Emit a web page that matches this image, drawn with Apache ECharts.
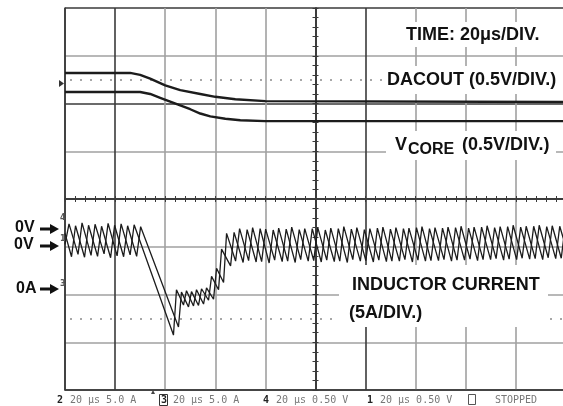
<!DOCTYPE html>
<html>
<head>
<meta charset="utf-8">
<script src="https://cdn.jsdelivr.net/npm/echarts@6/dist/echarts.min.js"></script>
<style>
  html, body { margin: 0; padding: 0; background: #fff; }
  #chart { width: 563px; height: 406px; }
</style>
</head>
<body>
<div id="chart"></div>
<script>
// x in microseconds (20 us/div, trigger at centre), y in screen divisions (0 = centre line)
const xTicks = [-100, -80, -60, -40, -20, 0, 20, 40, 60, 80, 100]
const yTicks = [-4, -3, -2, -1, 0, 1, 2, 3, 4]

// DACOUT (0.5V/div)
const dacTime = [-100, -74, -70, -66, -60, -54, -46, -40, -32, -20, 100]
const dacVal = [2.64, 2.64, 2.60, 2.52, 2.38, 2.28, 2.20, 2.14, 2.09, 2.05, 2.03]

// VCORE (0.5V/div)
const vcoreTime = [-100, -70, -66, -62, -58, -54, -50, -46, -42, -36, -30, -20, 100]
const vcoreVal = [2.24, 2.24, 2.20, 2.12, 2.04, 1.96, 1.88, 1.79, 1.73, 1.68, 1.65, 1.63, 1.63]

// inductor current, phase A (5A/div) - ripple vertices
const curATime = [
  -100, -98.4, -94.8, -93.2, -89.6, -88.0, -84.4, -82.8, -79.2, -77.6, -74.0, -72.4,
  -56.7, -55.5, -52.7, -51.5, -48.7, -47.5, -44.7, -43.5, -40.7, -39.5, -36.7, -35.5, -31.9, -30.3,
  -26.7, -25.1, -21.5, -19.9, -16.3, -14.7, -11.1, -9.5, -5.9, -4.3, -0.7, 0.9,
  4.5, 6.1, 9.7, 11.3, 14.9, 16.5, 20.1, 21.7, 25.3, 26.9, 30.5, 32.1,
  35.7, 37.3, 40.9, 42.5, 46.1, 47.7, 51.3, 52.9, 56.5, 58.1, 61.7, 63.3,
  66.9, 68.5, 72.1, 73.7, 77.3, 78.9, 82.5, 84.1, 87.7, 89.3, 92.9, 94.5, 98.1, 99.7, 100
]
const curAVal = [
  -0.95, -0.52, -1.16, -0.50, -1.18, -0.53, -1.15, -0.51, -1.19, -0.52, -1.17, -0.54,
  -2.85, -1.90, -2.22, -1.92, -2.24, -1.90, -2.20, -1.86, -2.10, -1.45, -1.75, -0.72, -1.30, -0.62,
  -1.29, -0.60, -1.31, -0.63, -1.28, -0.61, -1.30, -0.59, -1.27, -0.62, -1.29, -0.60,
  -1.28, -0.61, -1.30, -0.58, -1.27, -0.60, -1.29, -0.62, -1.28, -0.59, -1.30, -0.60,
  -1.27, -0.61, -1.28, -0.58, -1.29, -0.60, -1.27, -0.59, -1.28, -0.57, -1.26, -0.59,
  -1.27, -0.56, -1.25, -0.58, -1.26, -0.55, -1.24, -0.57, -1.25, -0.55, -1.23, -0.56, -1.24, -0.55, -0.62
]

// inductor current, phase B (5A/div)
const curBTime = [
  -100, -97.4, -95.8, -92.2, -90.6, -87.0, -85.4, -81.8, -80.2, -76.6, -75.0, -71.4, -69.8,
  -54.7, -53.5, -50.7, -49.5, -46.7, -45.5, -42.7, -41.5, -38.7, -37.5, -33.9, -32.5,
  -28.9, -27.3, -23.7, -22.1, -18.5, -16.9, -13.3, -11.7, -8.1, -6.5, -2.9, -1.3,
  2.3, 3.9, 7.5, 9.1, 12.7, 14.3, 17.9, 19.5, 23.1, 24.7, 28.3, 29.9,
  33.5, 35.1, 38.7, 40.3, 43.9, 45.5, 49.1, 50.7, 54.3, 55.9, 59.5, 61.1,
  64.7, 66.3, 69.9, 71.5, 75.1, 76.7, 80.3, 81.9, 85.5, 87.1, 90.7, 92.3, 95.9, 97.5, 100
]
const curBVal = [
  -0.72, -1.21, -0.56, -1.22, -0.55, -1.20, -0.57, -1.23, -0.55, -1.21, -0.56, -1.20, -0.58,
  -2.68, -1.95, -2.26, -1.94, -2.23, -1.88, -2.12, -1.62, -1.90, -1.05, -1.40, -0.70,
  -1.33, -0.64, -1.32, -0.62, -1.34, -0.65, -1.31, -0.63, -1.33, -0.64, -1.30, -0.62,
  -1.32, -0.65, -1.31, -0.62, -1.33, -0.63, -1.30, -0.64, -1.32, -0.61, -1.31, -0.63,
  -1.30, -0.62, -1.32, -0.60, -1.30, -0.62, -1.29, -0.61, -1.30, -0.60, -1.28, -0.61,
  -1.29, -0.59, -1.27, -0.60, -1.28, -0.58, -1.27, -0.59, -1.26, -0.57, -1.27, -0.58, -1.25, -0.57, -1.02
]

// cursor levels (dotted)
const cursorLevels = [2.5, -2.5]

const zip = (ts, vs) => ts.map((t, i) => [t, vs[i]])

const DARK = '#3a3a3a'
const GRAY = '#a0a0a0'
const labelFont = 'bold 18px "Liberation Sans", Arial, sans-serif'
const statusFont = '10px "DejaVu Sans Mono", monospace'

const chart = echarts.init(document.getElementById('chart'))

const trace = (name, ts, vs, width) => ({
  name,
  type: 'line',
  data: zip(ts, vs),
  showSymbol: false,
  symbol: 'none',
  silent: true,
  z: 5,
  lineStyle: { color: '#1c1c1c', width }
})

const centreAxis = (extra) => Object.assign({
  type: 'value',
  axisLabel: { show: false },
  splitLine: { show: false },
  axisLine: { show: true, onZero: true, onZeroAxisIndex: 0, lineStyle: { color: DARK, width: 1.5 } },
  axisTick: { show: true, inside: false, length: 3, lineStyle: { color: DARK, width: 1 } },
  minorTick: { show: true, splitNumber: 5, length: 3, lineStyle: { color: DARK, width: 1 } }
}, extra)

const text = (str, x, y, font, fill, align) => ({
  type: 'text', z: 101,
  style: { text: str, x, y, font: font || labelFont, fill: fill || '#111', align: align || 'left', verticalAlign: 'middle' }
})
const box = (x, y, w, h) => ({ type: 'rect', z: 100, shape: { x, y, width: w, height: h }, style: { fill: '#fff' } })
const arrow = (y) => ([
  { type: 'line', z: 101, shape: { x1: 40, y1: y, x2: 52, y2: y }, style: { stroke: '#111', lineWidth: 3 } },
  { type: 'polygon', z: 101, shape: { points: [[50, y - 5], [59, y], [50, y + 5]] }, style: { fill: '#111' } }
])

const option = {
  backgroundColor: '#fff',
  animation: false,
  grid: { left: 65, top: 8, width: 501, height: 382, outerBoundsMode: 'none', containLabel: false },
  xAxis: [
    {
      type: 'value', min: xTicks[0], max: xTicks[xTicks.length - 1], interval: 20,
      axisLine: { show: true, onZero: false, lineStyle: { color: DARK, width: 1.5 } },
      axisTick: { show: false }, axisLabel: { show: false },
      splitLine: { show: true, lineStyle: { width: 1.6, color: [DARK, DARK, GRAY, GRAY, GRAY, DARK, DARK, GRAY, GRAY, GRAY, GRAY] } }
    },
    centreAxis({ min: -100, max: 100, interval: 20, position: 'bottom' }),
    centreAxis({ min: -100, max: 100, interval: 20, position: 'top' })
  ],
  yAxis: [
    {
      type: 'value', min: yTicks[0], max: yTicks[yTicks.length - 1], interval: 1,
      axisLine: { show: true, onZero: false, lineStyle: { color: DARK, width: 1.5 } },
      axisTick: { show: false }, axisLabel: { show: false },
      splitLine: { show: true, lineStyle: { width: 1.6, color: [DARK, GRAY, GRAY, GRAY, DARK, GRAY, DARK, GRAY, DARK] } }
    },
    centreAxis({ min: -4, max: 4, interval: 1, position: 'left' }),
    centreAxis({ min: -4, max: 4, interval: 1, position: 'right' })
  ],
  series: [
    Object.assign(trace('DACOUT', dacTime, dacVal, 2.4), {
      markLine: {
        silent: true, symbol: 'none', label: { show: false },
        lineStyle: { color: '#8a8a8a', width: 1.5, type: [2, 8], dashOffset: -5 },
        data: cursorLevels.map(v => ({ yAxis: v }))
      }
    }),
    trace('VCORE', vcoreTime, vcoreVal, 2.4),
    trace('IL phase A', curATime, curAVal, 1.3),
    trace('IL phase B', curBTime, curBVal, 1.3)
  ],
  graphic: [
    // label boxes over the grid
    box(402, 22, 145, 25),
    box(383, 66, 180, 28),
    box(386, 131, 170, 29),
    box(339, 265, 209, 62),
    text('TIME: 20\u03bcs/DIV.', 406, 35),
    text('DACOUT (0.5V/DIV.)', 387, 80.5),
    text('V', 395, 145),
    text('CORE', 408, 150, 'bold 16px "Liberation Sans", Arial, sans-serif'),
    text('(0.5V/DIV.)', 462, 145.5),
    text('INDUCTOR CURRENT', 352, 285),
    text('(5A/DIV.)', 349, 313),
    // ground markers on the left
    text('0V', 15, 228, 'bold 16px "Liberation Sans", Arial, sans-serif'),
    text('0V', 14, 245, 'bold 16px "Liberation Sans", Arial, sans-serif'),
    text('0A', 16, 289, 'bold 16px "Liberation Sans", Arial, sans-serif'),
    ...arrow(229), ...arrow(246), ...arrow(289),
    text('4', 60, 218, 'bold 8px "DejaVu Sans", sans-serif', '#555'),
    text('1', 60, 239, 'bold 8px "DejaVu Sans", sans-serif', '#555'),
    text('3', 60, 284, 'bold 8px "DejaVu Sans", sans-serif', '#555'),
    { type: 'polygon', z: 101, shape: { points: [[59, 80], [64, 83.5], [59, 87]] }, style: { fill: '#333' } },
    // scope status line
    text('2', 57, 400, 'bold 10px "DejaVu Sans Mono", monospace', '#222'),
    text('20 \u03bcs 5.0 A', 70, 400, statusFont, '#777'),
    text('\u25b4', 151, 392, '8px "DejaVu Sans", sans-serif', '#444'),
    { type: 'rect', z: 101, shape: { x: 159.5, y: 394.5, width: 8, height: 11 }, style: { fill: 'none', stroke: '#333', lineWidth: 1 } },
    text('3', 161, 400, 'bold 10px "DejaVu Sans Mono", monospace', '#222'),
    text('20 \u03bcs 5.0 A', 173, 400, statusFont, '#777'),
    text('4', 263, 400, 'bold 10px "DejaVu Sans Mono", monospace', '#222'),
    text('20 \u03bcs 0.50 V', 276, 400, statusFont, '#777'),
    text('1', 367, 400, 'bold 10px "DejaVu Sans Mono", monospace', '#222'),
    text('20 \u03bcs 0.50 V', 380, 400, statusFont, '#777'),
    { type: 'rect', z: 101, shape: { x: 468.5, y: 394.5, width: 7, height: 10 }, style: { fill: 'none', stroke: '#555', lineWidth: 1 } },
    text('STOPPED', 495, 400, statusFont, '#777')
  ]
}

chart.setOption(option)
</script>
</body>
</html>
